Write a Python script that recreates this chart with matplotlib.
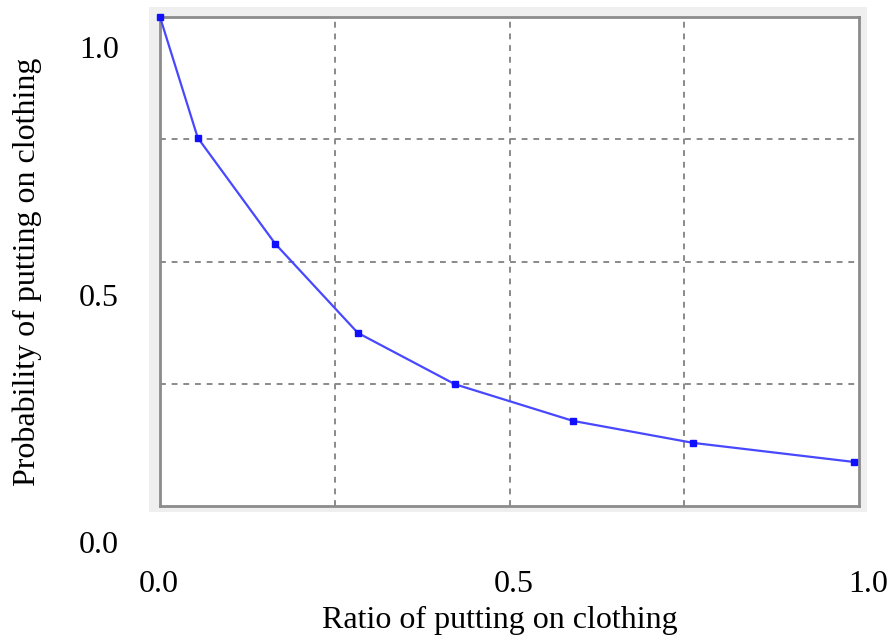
import numpy as np
import matplotlib
matplotlib.use("Agg")
import matplotlib.pyplot as plt
from matplotlib.patches import Rectangle

# data
ratio = [0.0, 0.054, 0.165, 0.283, 0.422, 0.591, 0.763, 0.993]
prob = [1.0, 0.753, 0.536, 0.354, 0.249, 0.174, 0.129, 0.090]
tick_vals = [0.0, 0.5, 1.0]
tick_labels = ["0.0", "0.5", "1.0"]

plt.rcParams['font.family'] = ['Liberation Serif', 'DejaVu Serif']

W, H = 896, 644
fig = plt.figure(figsize=(W / 100, H / 100), dpi=100)

def frac(x0, y0, x1, y1):
    # pixel box (top-left origin) -> figure fraction rect
    return [x0 / W, 1 - y1 / H, (x1 - x0) / W, (y1 - y0) / H]

# light gray frame behind the plot box
r = frac(149, 7, 867, 512)
fig.patches.append(Rectangle((r[0], r[1]), r[2], r[3], transform=fig.transFigure,
                             facecolor='#efefef', edgecolor='none', zorder=-5))

# the plot box
ax = fig.add_axes(frac(160, 17, 859, 506))
ax.set_facecolor('white')
ax.plot(ratio, prob, color='#4848ff', lw=1.6, marker='s', ms=4,
        mfc='#1010ff', mec='#1010ff', clip_on=False, zorder=3)
ax.set_xlim(0, 1)
ax.set_ylim(0, 1)
ax.set_xticks([0.25, 0.5, 0.75])
ax.set_yticks([0.25, 0.5, 0.75])
ax.tick_params(length=0, labelbottom=False, labelleft=False)
ax.grid(True, color='#8a8a8a', ls=(0, (3, 3)), lw=1.4)
for s in ax.spines.values():
    s.set_color('#8c8c8c')
    s.set_linewidth(2)

# invisible axes carrying the tick labels and titles
ax2 = fig.add_axes(frac(159, 47, 868, 542))
ax2.patch.set_visible(False)
for s in ax2.spines.values():
    s.set_visible(False)
ax2.set_xlim(0, 1)
ax2.set_ylim(0, 1)
ax2.set_xticks(tick_vals, tick_labels)
ax2.set_yticks(tick_vals, tick_labels)
ax2.tick_params(axis='x', length=0, pad=20, labelsize=23)
ax2.tick_params(axis='y', length=0, pad=29, labelsize=23)
ax2.set_xlabel("Ratio of putting on clothing", fontsize=23, va='center')
ax2.xaxis.set_label_coords(0.481, -0.158)
ax2.set_ylabel("Probability of putting on clothing", fontsize=23, va='center')
ax2.yaxis.set_label_coords(-0.186, 0.545)

fig.savefig("out.png", dpi=100, facecolor='white')
